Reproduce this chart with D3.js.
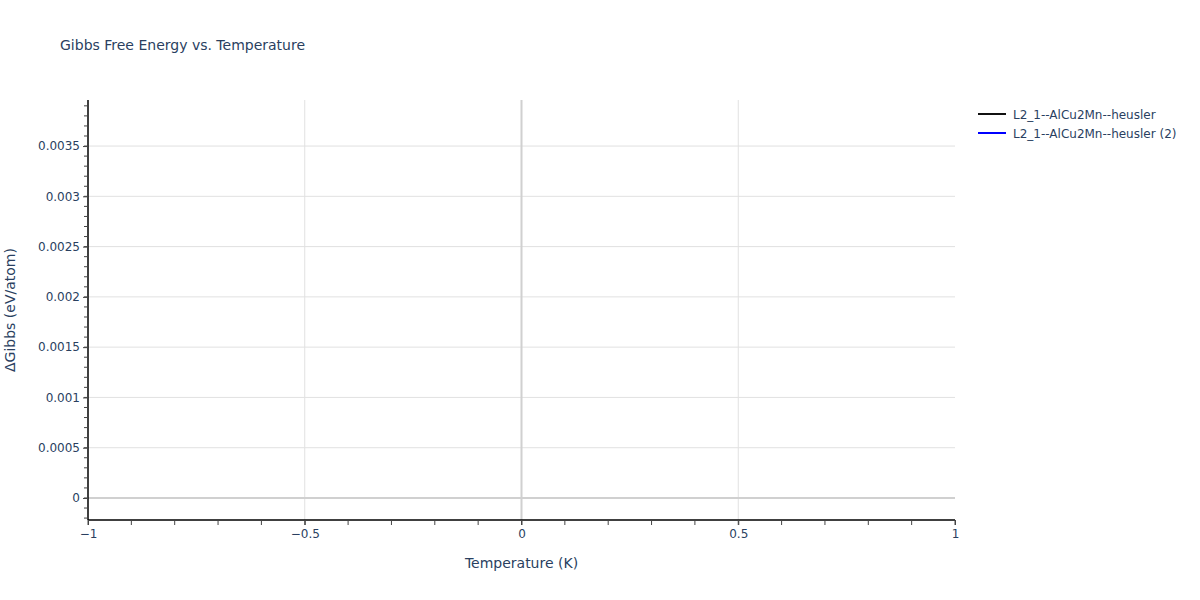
<!DOCTYPE html>
<html>
<head>
<meta charset="utf-8">
<script src="https://cdn.jsdelivr.net/npm/d3@7"></script>
<style>
  body { margin: 0; background: #fff; }
  text { font-family: "DejaVu Sans", Verdana, sans-serif; }
</style>
</head>
<body>
<div id="chart"></div>
<script>
// data
const seriesNames = ["L2_1--AlCu2Mn--heusler", "L2_1--AlCu2Mn--heusler (2)"];
const seriesColors = ["#111111", "#0000ff"];
const temperature = [0];
const gibbsA = [0];
const gibbsB = [0];
const xTicks = [-1, -0.5, 0, 0.5, 1];
const yTicks = [0, 0.0005, 0.001, 0.0015, 0.002, 0.0025, 0.003, 0.0035];

const width = 1200, height = 600;
const margin = { top: 100, right: 245, bottom: 80, left: 88 };
const textColor = "#2a3f5f";
const fontFamily = '"DejaVu Sans", Verdana, sans-serif';

const svg = d3.select("#chart").append("svg")
    .attr("width", width).attr("height", height);

const x = d3.scaleLinear().domain([-1, 1]).range([margin.left, width - margin.right]);
const y = d3.scaleLinear().domain([-0.000219, 0.003958]).range([height - margin.bottom, margin.top]);

// grid
svg.append("g").selectAll("line").data(xTicks.filter(d => d !== 0 && d !== -1 && d !== 1))
    .join("line")
    .attr("x1", d => x(d)).attr("x2", d => x(d))
    .attr("y1", margin.top).attr("y2", height - margin.bottom)
    .attr("stroke", "#e1e1e1").attr("stroke-width", 1);
svg.append("g").selectAll("line").data(yTicks.filter(d => d !== 0))
    .join("line")
    .attr("x1", margin.left).attr("x2", width - margin.right)
    .attr("y1", d => y(d)).attr("y2", d => y(d))
    .attr("stroke", "#e1e1e1").attr("stroke-width", 1);

// zero lines
svg.append("line")
    .attr("x1", x(0)).attr("x2", x(0))
    .attr("y1", margin.top).attr("y2", height - margin.bottom)
    .attr("stroke", "#d0d0d0").attr("stroke-width", 2);
svg.append("line")
    .attr("x1", margin.left).attr("x2", width - margin.right)
    .attr("y1", y(0)).attr("y2", y(0))
    .attr("stroke", "#d0d0d0").attr("stroke-width", 2);

// axes
const fmtX = d => d3.format("")(d).replace("-", "\u2212");
const xAxis = d3.axisBottom(x).tickValues(xTicks).tickFormat(fmtX).tickSize(5).tickPadding(4);
const yAxis = d3.axisLeft(y).tickValues(yTicks).tickFormat(d => d === 0 ? "0" : d3.format("")(+d.toFixed(4))).tickSize(5).tickPadding(3);

const gx = svg.append("g").attr("transform", `translate(0,${height - margin.bottom})`).call(xAxis);
const gy = svg.append("g").attr("transform", `translate(${margin.left},0)`).call(yAxis);

// minor ticks
gx.append("g").selectAll("line").data(d3.range(-10, 11).map(d => d / 10))
    .join("line")
    .attr("x1", d => x(d)).attr("x2", d => x(d))
    .attr("y1", 0).attr("y2", 5).attr("stroke", "#444");
gy.append("g").selectAll("line").data(d3.range(-2, 40).map(d => d / 10000))
    .join("line")
    .attr("x1", 0).attr("x2", -4)
    .attr("y1", d => y(d)).attr("y2", d => y(d)).attr("stroke", "#444");

[gx, gy].forEach(g => {
  g.select(".domain").attr("stroke", "#000").attr("stroke-width", 1.5);
  g.selectAll(".tick line").attr("stroke", "#444");
  g.selectAll("text").attr("fill", textColor).style("font-size", "12px")
    .style("font-family", fontFamily);
});
gy.select(".domain").attr("d", `M0,${margin.top}V${height - margin.bottom}`);
gx.select(".domain").attr("d", `M${margin.left},0H${width - margin.right}`);

// lines
const line = d3.line().x((d, i) => x(temperature[i])).y(d => y(d));
[gibbsA, gibbsB].forEach((s, i) => {
  svg.append("path").datum(s)
    .attr("d", line)
    .attr("fill", "none")
    .attr("stroke", seriesColors[i])
    .attr("stroke-width", 2);
});

// title and axis labels
svg.append("text").attr("x", 60).attr("y", 50)
    .attr("fill", textColor).style("font-size", "14px")
    .text("Gibbs Free Energy vs. Temperature");
svg.append("text").attr("x", x(0)).attr("y", 568)
    .attr("text-anchor", "middle").attr("fill", textColor).style("font-size", "14px")
    .text("Temperature (K)");
svg.append("text")
    .attr("transform", `translate(15,${(margin.top + height - margin.bottom) / 2}) rotate(-90)`)
    .attr("text-anchor", "middle").attr("fill", textColor).style("font-size", "14px")
    .text("ΔGibbs (eV/atom)");

// legend
const legend = svg.append("g").attr("transform", "translate(978,114)");
seriesNames.forEach((name, i) => {
  const g = legend.append("g").attr("transform", `translate(0,${i * 19})`);
  g.append("line").attr("x1", 0).attr("x2", 28).attr("y1", 0).attr("y2", 0)
    .attr("stroke", seriesColors[i]).attr("stroke-width", 2);
  g.append("text").attr("x", 35).attr("y", 4.5)
    .attr("fill", textColor).style("font-size", "12px").text(name);
});
</script>
</body>
</html>
